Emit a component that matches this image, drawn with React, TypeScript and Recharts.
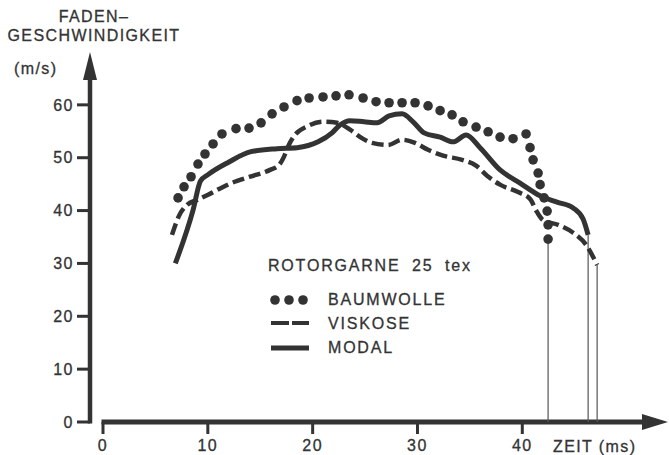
import { ComposedChart, Line, XAxis, YAxis, ReferenceLine } from 'recharts';

const ink = '#333';
const font = '"Liberation Sans", Arial, sans-serif';

// values (x = Zeit in ms, y = Fadengeschwindigkeit in m/s)
const baumwolleX = [7.16, 7.73, 8.4, 9.06, 9.73, 10.5, 11.35, 12.69, 13.93, 15.08, 16.13, 17.27, 18.51, 19.66, 20.99, 22.23, 23.47, 24.81, 26.05, 27.29, 28.53, 29.77, 31.01, 32.16, 33.3, 34.35, 35.59, 36.74, 37.88, 39.12, 40.36, 40.74, 41.03, 41.51, 41.7, 42.08, 42.37, 42.46, 42.46];
const baumwolleY = [42.4, 44.5, 46.4, 48.8, 50.7, 52.6, 54.5, 55.5, 55.6, 56.6, 58.3, 59.6, 60.8, 61.3, 61.5, 61.7, 61.9, 61.3, 60.6, 60.4, 60.4, 60.4, 59.8, 58.9, 58.1, 56.8, 55.8, 54.9, 53.9, 53.6, 54.5, 51.9, 49.6, 47.1, 44.9, 42.4, 39.9, 37.3, 34.6];

const viskoseX = [6.58, 7.25, 8.02, 8.97, 10.02, 12.12, 14.03, 15.94, 16.79, 17.27, 17.65, 18.23, 19.56, 20.99, 22.33, 23.57, 24.62, 25.67, 27.19, 28.53, 29.77, 31.01, 32.44, 34.26, 35.59, 36.64, 37.88, 39.6, 40.74, 41.41, 41.98, 43.42, 44.85, 46.09, 47.14];
const viskoseY = [35.4, 39.0, 41.1, 42.0, 43.0, 45.1, 46.4, 47.7, 48.6, 50.2, 52.1, 54.1, 56.0, 56.8, 56.6, 55.3, 53.8, 52.8, 52.4, 53.4, 52.8, 51.5, 50.4, 49.6, 48.5, 46.6, 44.9, 43.5, 42.2, 39.7, 38.2, 37.3, 35.8, 33.5, 29.7];

const modalX = [6.9, 8.59, 9.3, 10.02, 12.02, 14.03, 16.6, 18.51, 20.52, 21.85, 22.61, 23.57, 24.9, 26.15, 27.29, 28.53, 29.58, 30.63, 32.16, 33.4, 34.64, 35.97, 37.88, 39.79, 41.7, 43.32, 44.85, 45.8, 46.28];
const modalY = [30.0, 40.1, 45.6, 46.8, 49.2, 51.1, 51.7, 51.9, 53.0, 54.7, 56.2, 57.0, 56.8, 56.6, 57.9, 58.3, 56.8, 54.7, 53.9, 53.0, 54.3, 51.9, 47.7, 45.2, 42.8, 41.6, 40.5, 38.4, 35.4];

const xTicks = [0, 10, 20, 30, 40];
const yTicks = [0, 10, 20, 30, 40, 50, 60];
const xDomain = [-1.24, 53.9];
const yDomain = [0, 70];

const toPoints = (xs: number[], ys: number[]) => xs.map((x, i) => ({ x, y: ys[i] }));
const baumwolle = toPoints(baumwolleX, baumwolleY);
const viskose = toPoints(viskoseX, viskoseY);
const modal = toPoints(modalX, modalY);
const last = (pts: { x: number; y: number }[]) => pts[pts.length - 1];

const YArrow = (p: any) => (
  <g>
    <line x1={p.x1} y1={p.y1 + 1.5} x2={p.x2} y2={p.y2 + 24} stroke={ink} strokeWidth={4.5} />
    <polygon points={`${p.x2},${p.y2} ${p.x2 - 7},${p.y2 + 28} ${p.x2 + 7},${p.y2 + 28}`} fill={ink} />
  </g>
);

const XArrow = (p: any) => (
  <g>
    <line x1={p.x1 - 1.5} y1={p.y1} x2={p.x2 - 22} y2={p.y2} stroke={ink} strokeWidth={5} />
    <polygon points={`${p.x2},${p.y2} ${p.x2 - 26},${p.y2 - 8} ${p.x2 - 26},${p.y2 + 8}`} fill={ink} />
  </g>
);

const tickStyle = { fill: ink, fontSize: 16, fontFamily: font, letterSpacing: 1.5, stroke: ink, strokeWidth: 0.3 };

export default function App() {
  const endLines = [last(baumwolle), last(modal), last(viskose)];
  return (
    <div style={{ position: 'absolute', left: 0, top: 0, width: 669, height: 455, background: '#fff' }}>
      <ComposedChart width={669} height={455} margin={{ top: 52, right: 1, bottom: 0, left: 0 }}>
        <XAxis
          type="number"
          dataKey="x"
          domain={xDomain}
          ticks={xTicks}
          allowDataOverflow
          axisLine={false}
          tickLine={{ stroke: ink, strokeWidth: 3 }}
          tickSize={12}
          tickMargin={6}
          height={33}
          tick={tickStyle}
        />
        <YAxis
          type="number"
          dataKey="y"
          domain={yDomain}
          ticks={yTicks}
          allowDataOverflow
          axisLine={false}
          tickLine={{ stroke: ink, strokeWidth: 3 }}
          tickSize={13}
          tickMargin={3}
          width={90}
          tick={tickStyle}
        />
        <ReferenceLine
          segment={[{ x: xDomain[0], y: 0 }, { x: xDomain[0], y: yDomain[1] }]}
          ifOverflow="visible"
          shape={YArrow}
        />
        <ReferenceLine
          segment={[{ x: 0, y: 0 }, { x: xDomain[1], y: 0 }]}
          ifOverflow="visible"
          shape={XArrow}
        />
        {endLines.map((pt, i) => (
          <ReferenceLine
            key={i}
            segment={[{ x: pt.x, y: pt.y }, { x: pt.x, y: 0 }]}
            stroke="#555"
            strokeWidth={1.2}
            ifOverflow="visible"
          />
        ))}
        <Line
          data={viskose}
          dataKey="y"
          type="monotone"
          stroke={ink}
          strokeWidth={4.5}
          strokeDasharray="12 5"
          dot={false}
          activeDot={false}
          isAnimationActive={false}
        />
        <Line
          data={modal}
          dataKey="y"
          type="monotone"
          stroke={ink}
          strokeWidth={5}
          dot={false}
          activeDot={false}
          isAnimationActive={false}
        />
        <Line
          data={baumwolle}
          dataKey="y"
          type="linear"
          stroke="none"
          dot={{ r: 4.8, fill: ink, stroke: 'none' }}
          activeDot={false}
          isAnimationActive={false}
        />
      </ComposedChart>
      <svg
        width={669}
        height={455}
        style={{ position: 'absolute', left: 0, top: 0, pointerEvents: 'none' }}
        fontFamily={font}
        fontSize={16}
        fill={ink}
        stroke={ink}
        strokeWidth={0.3}
        letterSpacing={1.4}
      >
        <text x={94} y={22} textAnchor="middle">FADEN–</text>
        <text x={94} y={41} textAnchor="middle">GESCHWINDIGKEIT</text>
        <text x={14} y={74}>(m/s)</text>
        <text x={553} y={452}>ZEIT (ms)</text>

        <text y={271} letterSpacing={1.8}>
          <tspan x={268}>ROTORGARNE</tspan>
          <tspan x={412}>25</tspan>
          <tspan x={445}>tex</tspan>
        </text>
        <g stroke="none">
          <circle cx={275} cy={300} r={4.8} />
          <circle cx={289} cy={300} r={4.8} />
          <circle cx={303} cy={300} r={4.8} />
        </g>
        <text x={328} y={305} letterSpacing={1.8}>BAUMWOLLE</text>
        <line x1={271} y1={323} x2={289} y2={323} stroke={ink} strokeWidth={4} />
        <line x1={292} y1={323} x2={309} y2={323} stroke={ink} strokeWidth={4} />
        <text x={328} y={329} letterSpacing={1.8}>VISKOSE</text>
        <line x1={271} y1={348} x2={309} y2={348} stroke={ink} strokeWidth={5} />
        <text x={328} y={353} letterSpacing={1.8}>MODAL</text>
      </svg>
    </div>
  );
}
